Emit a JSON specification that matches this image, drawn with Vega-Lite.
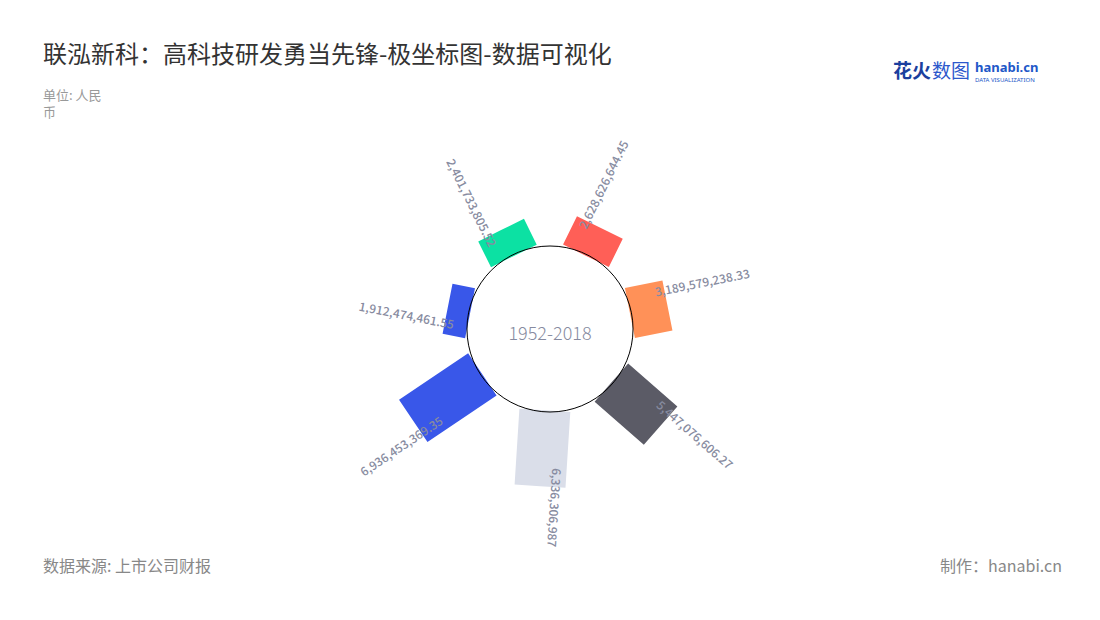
{
  "$schema": "https://vega.github.io/schema/vega-lite/v6.json",
  "width": 1014,
  "height": 398,
  "autosize": "none",
  "padding": {"left": 43, "top": 130, "right": 43, "bottom": 92},
  "background": "#ffffff",
  "config": {"view": {"stroke": null}, "font": "Noto Sans CJK SC"},
  "title": {
    "text": "联泓新科：高科技研发勇当先锋-极坐标图-数据可视化",
    "subtitle": ["单位: 人民", "币"],
    "anchor": "start",
    "frame": "group",
    "font": "Noto Sans CJK SC",
    "fontSize": 24,
    "fontWeight": "normal",
    "color": "#333333",
    "subtitleFont": "Noto Sans CJK SC",
    "subtitleFontSize": 13,
    "subtitleColor": "#999999",
    "subtitlePadding": 22,
    "subtitleLineHeight": 17,
    "offset": -58
  },
  "data": {
    "values": [
      {"year": 2012, "value": 1912474461.55},
      {"year": 2013, "value": 2401733805.52},
      {"year": 2014, "value": 2628626644.45},
      {"year": 2015, "value": 3189579238.33},
      {"year": 2016, "value": 5447076606.27},
      {"year": 2017, "value": 6336306987},
      {"year": 2018, "value": 6936453369.35}
    ]
  },
  "layer": [
    {
      "mark": {"type": "arc", "filled": false, "strokeWidth": 51, "strokeJoin": "bevel", "fill": null},
      "encoding": {
        "theta": {"field": "year", "type": "quantitative", "stack": null, "scale": {"domain": [2012, 2018], "range": [4.908, 10.404], "zero": false, "nice": false}},
        "theta2": {"field": "year"},
        "radius": {"field": "value", "type": "quantitative", "scale": {"domain": [0, 10000000000], "range": [81.5, 201.5], "zero": true, "nice": false}},
        "radius2": {"datum": 0},
        "color": {"field": "year", "type": "nominal", "scale": {"domain": [2012, 2013, 2014, 2015, 2016, 2017, 2018], "range": ["#3957E9", "#0CE1A3", "#FF5F57", "#FF9158", "#5B5B66", "#DADEE9", "#3957E9"]}, "legend": null}
      }
    },
    {
      "data": {"values": [{}]},
      "mark": {"type": "arc", "radius": 83, "radius2": 0, "theta": 0, "theta2": 6.2832, "fill": null, "stroke": "#000000", "strokeWidth": 1},
      "encoding": {}
    },
    {
      "transform": [{"filter": "datum.year >= 2014 && datum.year <= 2017"}],
      "mark": {"type": "text", "align": "left", "baseline": "middle", "fontSize": 12, "fontWeight": 500, "font": "Noto Sans CJK SC", "color": "#878BA0", "dy": -15},
      "encoding": {
        "theta": {"field": "year", "type": "quantitative", "stack": null, "scale": {"domain": [2012, 2018], "range": [4.908, 10.404], "zero": false, "nice": false}},
        "radius": {"field": "value", "type": "quantitative", "scale": {"domain": [0, 10000000000], "range": [81.5, 171.5], "zero": true, "nice": false}},
        "angle": {"field": "year", "type": "quantitative", "scale": {"domain": [2012, 2018], "range": [191.2, 506.1], "zero": false, "nice": false}},
        "text": {"field": "value", "type": "quantitative", "format": ",.2~f"}
      }
    },
    {
      "transform": [{"filter": "datum.year <= 2013 || datum.year >= 2018"}],
      "mark": {"type": "text", "align": "right", "baseline": "middle", "fontSize": 12, "fontWeight": 500, "font": "Noto Sans CJK SC", "color": "#878BA0", "dy": 15},
      "encoding": {
        "theta": {"field": "year", "type": "quantitative", "stack": null, "scale": {"domain": [2012, 2018], "range": [4.908, 10.404], "zero": false, "nice": false}},
        "radius": {"field": "value", "type": "quantitative", "scale": {"domain": [0, 10000000000], "range": [78, 168], "zero": true, "nice": false}},
        "angle": {"field": "year", "type": "quantitative", "scale": {"domain": [2012, 2018], "range": [11.2, 326.1], "zero": false, "nice": false}},
        "text": {"field": "value", "type": "quantitative", "format": ",.2~f"}
      }
    },
    {
      "data": {"values": [{"label": "1952-2018"}]},
      "mark": {"type": "text", "align": "center", "baseline": "middle", "fontSize": 18, "font": "Noto Sans CJK SC", "fontWeight": 300, "color": "#878BA0", "dy": 6},
      "encoding": {
        "theta": {"value": 0},
        "radius": {"value": 0},
        "text": {"field": "label"}
      }
    },
    {
      "data": {"values": [{"label": "数据来源: 上市公司财报"}]},
      "mark": {"type": "text", "align": "left", "baseline": "middle", "fontSize": 16, "font": "Noto Sans CJK SC", "color": "#888888", "dy": 39},
      "encoding": {
        "x": {"value": 0},
        "y": {"value": "height"},
        "text": {"field": "label"}
      }
    },
    {
      "data": {"values": [{"label": "制作：hanabi.cn"}]},
      "mark": {"type": "text", "align": "right", "baseline": "middle", "fontSize": 16, "font": "Noto Sans CJK SC", "color": "#888888", "dy": 39, "dx": 5},
      "encoding": {
        "x": {"value": "width"},
        "y": {"value": "height"},
        "text": {"field": "label"}
      }
    },
    {
      "data": {"values": [{"label": "花火"}]},
      "mark": {"type": "text", "align": "left", "baseline": "middle", "fontSize": 19, "fontWeight": "bold", "font": "Noto Sans CJK SC", "color": "#1B3F9E", "dx": -164, "dy": -58},
      "encoding": {
        "x": {"value": "width"},
        "y": {"value": 0},
        "text": {"field": "label"}
      }
    },
    {
      "data": {"values": [{"label": "数图"}]},
      "mark": {"type": "text", "align": "left", "baseline": "middle", "fontSize": 19, "fontWeight": "normal", "font": "Noto Sans CJK SC", "color": "#2C58CC", "dx": -125, "dy": -58},
      "encoding": {
        "x": {"value": "width"},
        "y": {"value": 0},
        "text": {"field": "label"}
      }
    },
    {
      "data": {"values": [{"label": "hanabi.cn"}]},
      "mark": {"type": "text", "align": "left", "baseline": "middle", "fontSize": 13, "fontWeight": "bold", "font": "Noto Sans", "color": "#2157C8", "dx": -82, "dy": -62},
      "encoding": {
        "x": {"value": "width"},
        "y": {"value": 0},
        "text": {"field": "label"}
      }
    },
    {
      "data": {"values": [{"label": "DATA VISUALIZATION"}]},
      "mark": {"type": "text", "align": "left", "baseline": "middle", "fontSize": 6, "font": "Noto Sans", "color": "#2157C8", "dx": -82, "dy": -50},
      "encoding": {
        "x": {"value": "width"},
        "y": {"value": 0},
        "text": {"field": "label"}
      }
    }
  ],
  "resolve": {"scale": {"radius": "independent", "angle": "independent"}}
}
